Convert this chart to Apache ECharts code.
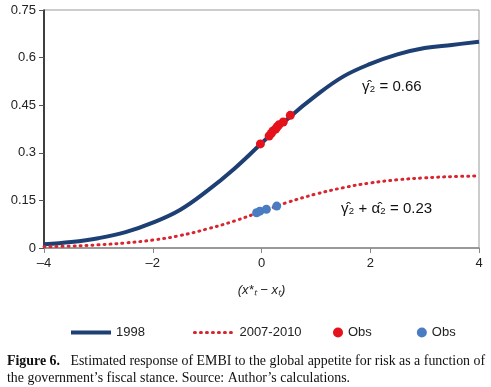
<!DOCTYPE html>
<html>
<head>
<meta charset="utf-8">
<script src="https://cdn.jsdelivr.net/npm/echarts@6/dist/echarts.min.js"></script>
<style>
  html, body { margin: 0; padding: 0; background: #fff; }
  #chart { width: 491px; height: 387px; }
</style>
</head>
<body>
<div id="chart"></div>
<script>
// values
const xGrid = [-4, -3.5, -3, -2.5, -2, -1.5, -1, -0.5, 0, 0.5, 1, 1.5, 2, 2.5, 3, 3.5, 4];
const curve1998 = [0.012, 0.019, 0.031, 0.05, 0.08, 0.12, 0.18, 0.25, 0.33, 0.41, 0.48, 0.54, 0.58, 0.61, 0.63, 0.64, 0.65];
const curve2007 = [0.004, 0.006, 0.01, 0.016, 0.025, 0.039, 0.06, 0.085, 0.115, 0.145, 0.17, 0.19, 0.205, 0.215, 0.221, 0.225, 0.227];
const obsRedX = [-0.02, 0.14, 0.18, 0.21, 0.26, 0.29, 0.32, 0.4, 0.53];
const obsRedY = [0.328, 0.353, 0.361, 0.369, 0.375, 0.382, 0.388, 0.397, 0.418];
const obsBlueX = [-0.09, -0.03, 0.09, 0.28];
const obsBlueY = [0.111, 0.116, 0.122, 0.132];
const yTicks = { min: 0, max: 0.75, step: 0.15 };
const xTicks = { min: -4, max: 4, step: 2 };

const pairs = (xs, ys) => xs.map((x, i) => [x, ys[i]]);
const sans = "Liberation Sans, Arial, sans-serif";
const serif = "Liberation Serif, DejaVu Serif, serif";

const chart = echarts.init(document.getElementById("chart"), null, { renderer: "canvas" });

chart.setOption({
  backgroundColor: "#fff",
  animation: false,
  textStyle: { fontFamily: sans },
  grid: { left: 44, right: 12, top: 10, bottom: 139, show: true, borderColor: "#999", borderWidth: 1 },
  xAxis: {
    type: "value",
    min: xTicks.min,
    max: xTicks.max,
    interval: xTicks.step,
    splitLine: { show: false },
    axisLine: { onZero: false, lineStyle: { color: "#888", width: 1.5 } },
    axisTick: { show: true, length: 5, lineStyle: { color: "#888" } },
    axisLabel: {
      color: "#222", fontSize: 13, margin: 9,
      formatter: (v) => String(v).replace("-", "\u2013"),
    },
    name: "(x*ₜ − xₜ)",
    nameLocation: "middle",
    nameGap: 36,
    nameTextStyle: { color: "#222", fontSize: 13, fontStyle: "italic" },
  },
  yAxis: {
    type: "value",
    min: yTicks.min,
    max: yTicks.max,
    interval: yTicks.step,
    splitLine: { show: false },
    axisLine: { show: true, onZero: false, lineStyle: { color: "#111", width: 1.5 } },
    axisTick: { show: true, length: 5, lineStyle: { color: "#555" } },
    axisLabel: { color: "#222", fontSize: 13, margin: 8 },
  },
  legend: [
    {
      left: 64, top: 321,
      itemWidth: 40, itemHeight: 8, itemGap: 48,
      textStyle: { fontSize: 13, color: "#222", fontFamily: sans },
      data: [
        { name: "1998", itemStyle: { opacity: 0 }, lineStyle: { width: 4 } },
        { name: "2007-2010", itemStyle: { opacity: 0 }, lineStyle: { width: 3 } },
      ],
    },
    {
      left: 328, top: 321,
      itemWidth: 10, itemHeight: 10, itemGap: 45,
      textStyle: { fontSize: 13, color: "#222", fontFamily: sans },
      data: [
        { name: "Obs", icon: "circle" },
        { name: "Obs ", icon: "circle" },
      ],
      formatter: (n) => n.trim(),
    },
  ],
  series: [
    {
      name: "1998",
      type: "line",
      data: pairs(xGrid, curve1998),
      smooth: 0.4,
      symbol: "none",
      color: "#1d3f74",
      lineStyle: { width: 4, color: "#1d3f74" },
      z: 2,
    },
    {
      name: "2007-2010",
      type: "line",
      data: pairs(xGrid, curve2007),
      smooth: 0.4,
      symbol: "none",
      color: "#d9262e",
      lineStyle: { width: 3, color: "#d9262e", type: [1, 5], cap: "round" },
      z: 2,
    },
    {
      name: "Obs",
      type: "scatter",
      data: pairs(obsRedX, obsRedY),
      symbolSize: 9,
      itemStyle: { color: "#e5121c", opacity: 1 },
      z: 3,
    },
    {
      name: "Obs ",
      type: "scatter",
      data: pairs(obsBlueX, obsBlueY),
      symbolSize: 9,
      itemStyle: { color: "#4a7cc2", opacity: 1 },
      z: 3,
    },
  ],
  graphic: [
    {
      type: "text", left: 362, top: 79,
      style: { text: "γ̂₂ = 0.66", fontSize: 15, fill: "#111", fontFamily: sans },
    },
    {
      type: "text", left: 341, top: 201,
      style: { text: "γ̂₂ + α̂₂ = 0.23", fontSize: 15, fill: "#111", fontFamily: sans },
    },
    {
      type: "text", left: 7, top: 353,
      style: {
        text: "{b|Figure 6.}   Estimated response of EMBI to the global appetite for risk as a function of\nthe government’s fiscal stance. Source: Author’s calculations.",
        fontSize: 13.9, lineHeight: 17, fill: "#111", fontFamily: serif,
        rich: { b: { fontWeight: "bold", fontSize: 13.9, fontFamily: serif, fill: "#111" } },
      },
    },
  ],
});
</script>
</body>
</html>
